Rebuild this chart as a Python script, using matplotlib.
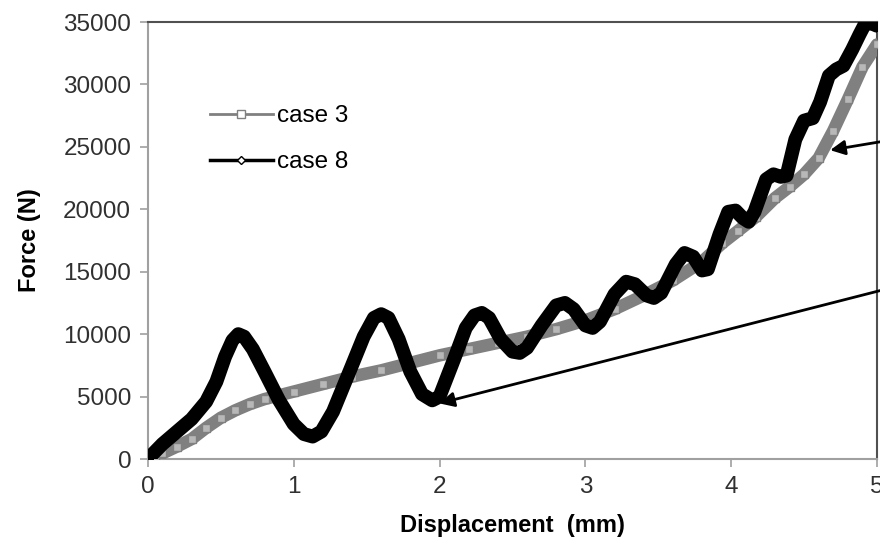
import matplotlib
matplotlib.use("Agg")
import matplotlib.pyplot as plt

plt.rcParams["font.family"] = ["Liberation Sans", "DejaVu Sans"]

# displacement (mm) / force (N)
case3_x = [0.0, 0.05, 0.1, 0.2, 0.3, 0.4, 0.5, 0.6, 0.7, 0.8, 0.9, 1.0, 1.2, 1.4,
           1.6, 1.8, 2.0, 2.2, 2.4, 2.6, 2.8, 3.0, 3.2, 3.4, 3.6, 3.8, 3.94, 4.05,
           4.17, 4.3, 4.4, 4.5, 4.6, 4.7, 4.8, 4.9, 5.0]
case3_y = [0, 200, 450, 1000, 1600, 2500, 3300, 3900, 4400, 4800, 5100, 5400, 6000, 6600,
           7100, 7700, 8300, 8800, 9300, 9800, 10400, 11100, 12000, 13100, 14300, 15800, 17300, 18300,
           19400, 20900, 21800, 22800, 24100, 26300, 28800, 31400, 33200]

case8_x = [0.0, 0.1, 0.2, 0.3, 0.4, 0.47, 0.53, 0.58, 0.62, 0.66, 0.72, 0.8, 0.9, 1.0,
           1.07, 1.13, 1.19, 1.27, 1.4, 1.48, 1.55, 1.6, 1.65, 1.72, 1.8, 1.88, 1.95, 2.0,
           2.1, 2.18, 2.24, 2.29, 2.34, 2.42, 2.5, 2.55, 2.6, 2.7, 2.8, 2.86, 2.92, 3.0,
           3.05, 3.1, 3.2, 3.28, 3.34, 3.42, 3.47, 3.52, 3.62, 3.68, 3.74, 3.8, 3.84, 3.92,
           3.98, 4.03, 4.08, 4.12, 4.16, 4.24, 4.29, 4.34, 4.38, 4.44, 4.5, 4.56, 4.61, 4.67,
           4.72, 4.77, 4.83, 4.88, 4.92, 4.96, 5.0]
case8_y = [0, 1200, 2200, 3200, 4600, 6200, 8200, 9500, 10000, 9800, 8800, 7000, 4700, 2800,
           2000, 1800, 2200, 3800, 7500, 9800, 11300, 11600, 11300, 9600, 7000, 5200, 4700, 5000,
           8000, 10500, 11500, 11700, 11300, 9600, 8600, 8500, 8900, 10700, 12300, 12500, 12000, 10700,
           10500, 11000, 13200, 14200, 14000, 13100, 12900, 13300, 15600, 16500, 16200, 15100, 15200, 18000,
           19800, 19900, 19300, 19000, 19800, 22400, 22800, 22600, 22700, 25600, 27100, 27300, 28600, 30700,
           31200, 31500, 32800, 34000, 34900, 34900, 34700]

x_ticks = [0, 1, 2, 3, 4, 5]
y_ticks = [0, 5000, 10000, 15000, 20000, 25000, 30000, 35000]

fig = plt.figure(figsize=(8.8, 5.46), dpi=100)
ax = fig.add_axes([0.168, 0.1593, 0.8286, 0.8004])

ax.plot(case3_x, case3_y, color="#808080", linewidth=9, solid_capstyle="round",
        solid_joinstyle="round", marker="s", markersize=6, markerfacecolor="#b8b8b8",
        markeredgecolor="#808080", label="case 3", zorder=3)
ax.plot(case8_x, case8_y, color="black", linewidth=10, solid_capstyle="round",
        solid_joinstyle="round", marker="D", markersize=5, markerfacecolor="black",
        markeredgecolor="black", label="case 8", zorder=4)

# legend drawn with thin proxies like the original
h3, = ax.plot([], [], color="#808080", linewidth=2, marker="s", markersize=6,
              markerfacecolor="white", markeredgecolor="#808080")
h8, = ax.plot([], [], color="black", linewidth=2.5, marker="D", markersize=4,
              markerfacecolor="white", markeredgecolor="black")
ax.legend([h3, h8], ["case 3", "case 8"], loc="upper left",
          bbox_to_anchor=(0.055, 0.86), frameon=False, fontsize=17.5,
          handlelength=2.6, handletextpad=0.15, labelspacing=1.0)

# arrows coming in from the right edge
ax.annotate("", xy=(4.66, 24700), xycoords="data", xytext=(1.012, 0.728),
            textcoords="axes fraction", annotation_clip=False,
            arrowprops=dict(arrowstyle="-|>", color="black", lw=2, mutation_scale=22))
ax.annotate("", xy=(1.98, 4400), xycoords="data", xytext=(1.008, 0.387),
            textcoords="axes fraction", annotation_clip=False,
            arrowprops=dict(arrowstyle="-|>", color="black", lw=2, mutation_scale=22))

ax.set_xlim(0, 5)
ax.set_ylim(0, 35000)
ax.set_xticks(x_ticks)
ax.set_yticks(y_ticks)
ax.tick_params(direction="out", length=6, width=1.2, color="#a0a0a0",
               labelsize=17.5, labelcolor="#303030", pad=6)

for side in ("left", "bottom"):
    ax.spines[side].set_color("#a0a0a0")
    ax.spines[side].set_linewidth(1.5)
for side in ("top", "right"):
    ax.spines[side].set_color("#505050")
    ax.spines[side].set_linewidth(1.5)

ax.set_xlabel("Displacement  (mm)", fontsize=17, fontweight="bold", labelpad=12)
ax.set_ylabel("Force (N)", fontsize=17, fontweight="bold", labelpad=16)

fig.savefig("out.png", dpi=100)
